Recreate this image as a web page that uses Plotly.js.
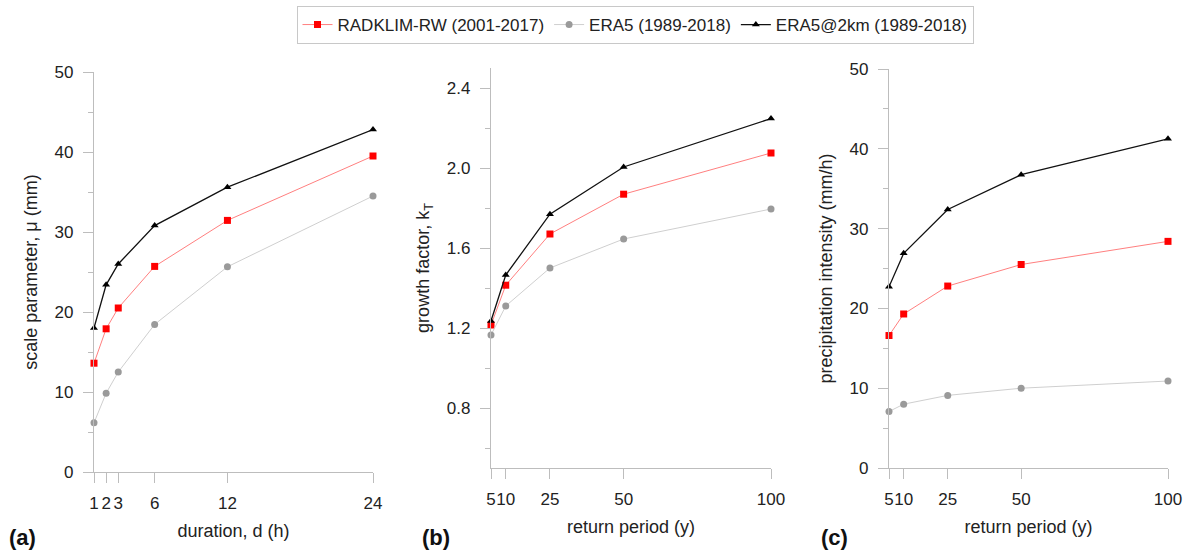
<!DOCTYPE html>
<html><head><meta charset="utf-8">
<script src="https://cdn.plot.ly/plotly-3.0.1.min.js"></script>
<style>body{margin:0;background:#fff}#c{width:1189px;height:554px}</style>
</head><body><div id="c"></div>
<script>
// Panel (a): scale parameter vs duration
const durations = [1, 2, 3, 6, 12, 24];
const a_radklim = [13.6, 17.9, 20.5, 25.7, 31.45, 39.5];
const a_era5    = [6.15, 9.85, 12.5, 18.45, 25.65, 34.5];
const a_era5_2k = [18.0, 23.4, 26.0, 30.8, 35.6, 42.8];
// Panel (b): growth factor vs return period
const returnPeriods = [5, 10, 25, 50, 100];
const b_radklim = [1.215, 1.414, 1.67, 1.869, 2.075];
const b_era5    = [1.165, 1.31, 1.50, 1.645, 1.795];
const b_era5_2k = [1.235, 1.465, 1.769, 2.005, 2.247];
// Panel (c): precipitation intensity vs return period
const c_radklim = [16.6, 19.3, 22.8, 25.5, 28.4];
const c_era5    = [7.08, 8.0, 9.1, 10.0, 10.9];
const c_era5_2k = [22.7, 26.9, 32.4, 36.75, 41.25];
// Tick labels
const durTicks = [1, 2, 3, 6, 12, 24];
const rpTicks = [5, 10, 25, 50, 100];
const rpTickText = ['5', '10', '25', '50', '100'];

const names = ['RADKLIM-RW (2001-2017)', 'ERA5 (1989-2018)', 'ERA5@2km (1989-2018)'];
const styles = [
  {line: {color: '#ff7070', width: 0.9}, marker: {symbol: 'square', color: '#ff0000', size: 7}},
  {line: {color: '#cfcfcf', width: 1}, marker: {symbol: 'circle', color: '#9a9a9a', size: 7}},
  {line: {color: '#111111', width: 1.3}, marker: {symbol: 'triangle-up', color: '#000000', size: 7}}
];

function tr(x, y, i, xa, ya, show) {
  return {x: x, y: y, name: names[i], type: 'scatter', mode: 'lines+markers',
    line: styles[i].line, marker: styles[i].marker, xaxis: xa, yaxis: ya,
    showlegend: show, cliponaxis: false, hoverinfo: 'skip'};
}
const data = [
  tr(durations, a_radklim, 0, 'x', 'y', true),
  tr(durations, a_era5, 1, 'x', 'y', true),
  tr(durations, a_era5_2k, 2, 'x', 'y', true),
  tr(returnPeriods, b_radklim, 0, 'x2', 'y2', false),
  tr(returnPeriods, b_era5, 1, 'x2', 'y2', false),
  tr(returnPeriods, b_era5_2k, 2, 'x2', 'y2', false),
  tr(returnPeriods, c_radklim, 0, 'x3', 'y3', false),
  tr(returnPeriods, c_era5, 1, 'x3', 'y3', false),
  tr(returnPeriods, c_era5_2k, 2, 'x3', 'y3', false)
];

const W = 1189, H = 554;
const font = {family: 'Liberation Sans, Arial, sans-serif', size: 17, color: '#222'};
function xax(dom, range, tv, tt, title, anchor) {
  return {domain: [dom[0] / W, dom[1] / W], range: range, anchor: anchor,
    tickmode: 'array', tickvals: tv, ticktext: tt, ticks: 'outside', ticklen: 10,
    tickcolor: '#bdbdbd', showline: true, linecolor: '#bdbdbd', linewidth: 1.2,
    showgrid: false, zeroline: false, tickfont: {size: 17, color: '#222'},
    tickangle: 0, ticklabeloverflow: 'allow',
    ticklabelstandoff: 5,
    title: {text: title, font: {size: 18, color: '#222'}, standoff: 12}};
}
function yax(dom, range, dt, minorDt, title, anchor) {
  return {domain: [1 - dom[1] / H, 1 - dom[0] / H], range: range, anchor: anchor,
    dtick: dt, tick0: 0, ticks: 'outside', ticklen: 10, tickcolor: '#bdbdbd',
    showline: true, linecolor: '#bdbdbd', linewidth: 1.2, showgrid: false, zeroline: false,
    tickfont: {size: 17, color: '#222'}, tickformat: dt < 1 ? '.1f' : '',
    ticklabelstandoff: 6,
    minor: {dtick: minorDt, ticks: 'outside', ticklen: 5, tickcolor: '#bdbdbd', showgrid: false},
    title: {text: title, font: {size: 18, color: '#222'}, standoff: 12}};
}

const layout = {
  width: W, height: H, margin: {l: 0, r: 0, t: 0, b: 0},
  paper_bgcolor: '#fff', plot_bgcolor: '#fff', font: font,
  showlegend: true,
  legend: {orientation: 'h', x: 635 / W, xanchor: 'center', y: 1 - 6 / H, yanchor: 'top',
    bordercolor: '#c8c8c8', borderwidth: 1, font: {size: 17, color: '#222'}},
  xaxis: xax([94, 373], [1, 24], durTicks, durTicks.map(String), 'duration, d (h)', 'y'),
  yaxis: yax([72, 472], [0, 50], 10, 5, 'scale parameter, μ (mm)', 'x'),
  xaxis2: xax([491, 771], [5, 100], rpTicks, rpTickText, 'return period (y)', 'y2'),
  yaxis2: yax([68, 468], [0.5, 2.5], 0.4, 0.2, 'growth factor, k<sub>T</sub>', 'x2'),
  xaxis3: xax([889, 1168], [5, 100], rpTicks, rpTickText, 'return period (y)', 'y3'),
  yaxis3: yax([69, 468], [0, 50], 10, 5, 'precipitation intensity (mm/h)', 'x3'),
  annotations: [
    {text: '<b>(a)</b>', x: 7 / W, y: 1 - 537 / H, xref: 'paper', yref: 'paper', xanchor: 'left', yanchor: 'middle', showarrow: false, font: {size: 22, color: '#111'}},
    {text: '<b>(b)</b>', x: 420 / W, y: 1 - 537 / H, xref: 'paper', yref: 'paper', xanchor: 'left', yanchor: 'middle', showarrow: false, font: {size: 22, color: '#111'}},
    {text: '<b>(c)</b>', x: 819 / W, y: 1 - 537 / H, xref: 'paper', yref: 'paper', xanchor: 'left', yanchor: 'middle', showarrow: false, font: {size: 22, color: '#111'}}
  ]
};
Plotly.newPlot('c', data, layout, {displayModeBar: false, staticPlot: true});
</script></body></html>
